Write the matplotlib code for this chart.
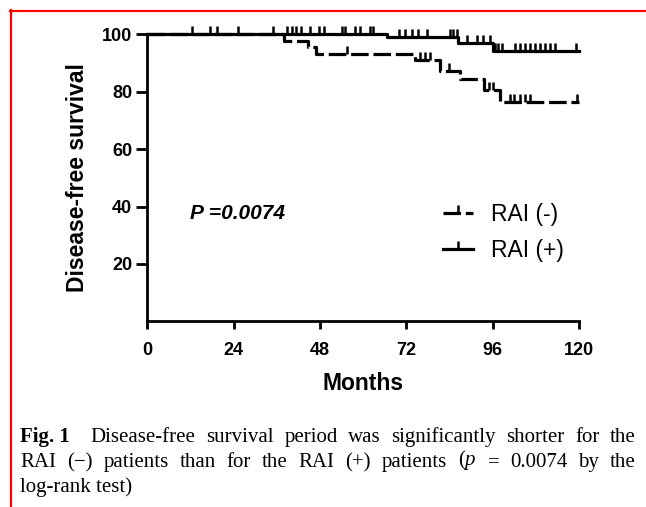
import numpy as np
import matplotlib
matplotlib.use("Agg")
import matplotlib.pyplot as plt
from matplotlib.lines import Line2D

plt.rcParams['font.family'] = ['Liberation Sans', 'DejaVu Sans']
plt.rcParams['mathtext.fontset'] = 'custom'
plt.rcParams['mathtext.rm'] = 'Liberation Serif'
plt.rcParams['mathtext.it'] = 'Liberation Serif:italic'

# RAI (-) group: event times (months) and survival after each drop
neg_times = [38.0, 44.7, 47.0, 74.4, 81.3, 86.9, 93.4, 98.0]
neg_surv = [97.7, 95.4, 93.1, 90.8, 87.3, 84.2, 80.6, 76.2]
neg_censor = [55.6, 75.8, 77.2, 78.6, 83.8, 94.8, 96.1, 100.7, 102.0,
              103.5, 104.9, 106.3, 119.4]

# RAI (+) group
pos_times = [66.5, 86.4, 96.0]
pos_surv = [98.9, 96.9, 94.2]
pos_censor = [12.3, 17.3, 19.3, 25.1, 35.0, 38.7, 40.3, 41.2, 42.7, 45.2,
              47.6, 49.2, 54.0, 54.9, 57.7, 59.1, 61.9, 62.8, 69.8, 71.6,
              73.5, 75.3, 77.6, 84.1, 85.0, 85.9, 88.7, 91.5, 93.3, 95.2,
              96.6, 97.5, 98.4, 102.1, 103.5, 104.9, 106.3, 107.7, 109.1,
              110.4, 111.8, 113.2, 119.2]

xticks = [0, 24, 48, 72, 96, 120]
yticks = [20, 40, 60, 80, 100]

caption = [
    [('Fig. 1', 'bold'), ('Disease-free', 'normal'), ('survival', 'normal'),
     ('period', 'normal'), ('was', 'normal'), ('significantly', 'normal'),
     ('shorter', 'normal'), ('for', 'normal'), ('the', 'normal')],
    [('RAI', 'normal'), ('(\u2212)', 'normal'), ('patients', 'normal'),
     ('than', 'normal'), ('for', 'normal'), ('the', 'normal'), ('RAI', 'normal'),
     ('(+)', 'normal'), ('patients', 'normal'), ('($p$', 'normal'), ('=', 'normal'),
     ('0.0074', 'normal'), ('by', 'normal'), ('the', 'normal')],
    [('log-rank test)', 'normal')],
]


def level_at(times, surv, t):
    i = np.searchsorted(times, t, side='right')
    return 100.0 if i == 0 else surv[i - 1]


fig = plt.figure(figsize=(6.46, 5.07), dpi=100)
ax = fig.add_axes([0.228, 0.3659, 0.6687, 0.567])

# dashed curve
tx = [0] + neg_times + [120]
sy = [100] + neg_surv + [neg_surv[-1]]
ax.step(tx, sy, where='post', color='k', lw=2.3, dashes=(5.5, 1.5),
        dash_capstyle='butt', clip_on=False)
ax.plot(neg_censor, [level_at(neg_times, neg_surv, t) for t in neg_censor],
        ls='none', marker=2, ms=6, mew=1.8, color='k', clip_on=False)

# solid curve
tx = [0] + pos_times + [120]
sy = [100] + pos_surv + [pos_surv[-1]]
ax.step(tx, sy, where='post', color='k', lw=2.3, clip_on=False)
ax.plot(pos_censor, [level_at(pos_times, pos_surv, t) for t in pos_censor],
        ls='none', marker=2, ms=6, mew=1.8, color='k', clip_on=False)

ax.set_xlim(0, 120)
ax.set_ylim(0, 100)
ax.set_xticks(xticks)
ax.set_yticks(yticks)
ax.spines['top'].set_visible(False)
ax.spines['right'].set_visible(False)
ax.spines['left'].set_linewidth(2)
ax.spines['bottom'].set_linewidth(2)
ax.tick_params(axis='y', length=8, width=2, labelsize=13, pad=3)
ax.tick_params(axis='x', length=6, width=2, labelsize=13, pad=9)
for lab in ax.get_xticklabels() + ax.get_yticklabels():
    lab.set_fontweight('bold')

ax.set_xlabel('Months', fontsize=16.5, fontweight='bold', labelpad=9)
ax.set_ylabel('Disease-free survival', fontsize=16.5, fontweight='bold', labelpad=9)

ax.text(0.1, 37.4, 'P =0.0074', transform=ax.get_yaxis_transform(),
        fontsize=15, fontweight='bold', fontstyle='italic', va='center')

h_neg = Line2D([], [], color='k', lw=2.3, dashes=(5.5, 1.5), marker=2, ms=6, mew=1.8)
h_pos = Line2D([], [], color='k', lw=2.3, marker=2, ms=6, mew=1.8)
ax.legend([h_neg, h_pos], ['RAI (-)', 'RAI (+)'], loc='upper left',
          bbox_to_anchor=(0.684, 0.412), frameon=False, fontsize=16.5,
          handlelength=1.3, handletextpad=0.8, labelspacing=0.55, borderpad=0,
          borderaxespad=0)

# red frame
fig.add_artist(Line2D([10 / 646, 1], [1 - 10.5 / 507, 1 - 10.5 / 507], color='red', lw=1.6,
                      transform=fig.transFigure))
fig.add_artist(Line2D([10.5 / 646, 10.5 / 646], [0, 1 - 10 / 507], color='red', lw=1.6,
                      transform=fig.transFigure))

# caption, justified between x0 and x1 (pixels)
x0, x1 = 20, 636
bottoms = [447, 472, 497]
renderer = fig.canvas.get_renderer()
for li, (words, yb) in enumerate(zip(caption, bottoms)):
    texts = [fig.text(0, 1 - yb / 507, w, family='Liberation Serif', fontsize=15,
                      fontweight=wt, va='bottom') for w, wt in words]
    widths = [t.get_window_extent(renderer).width for t in texts]
    gap_w = [2.0 if (li == 0 and i == 0) else 1.0 for i in range(len(texts) - 1)]
    if li < 2:
        unit = (x1 - x0 - sum(widths)) / sum(gap_w)
    else:
        unit = 5
    x = x0
    for i, t in enumerate(texts):
        t.set_x(x / 646)
        x += widths[i] + (unit * gap_w[i] if i < len(gap_w) else 0)

fig.savefig('out.png', dpi=100)
